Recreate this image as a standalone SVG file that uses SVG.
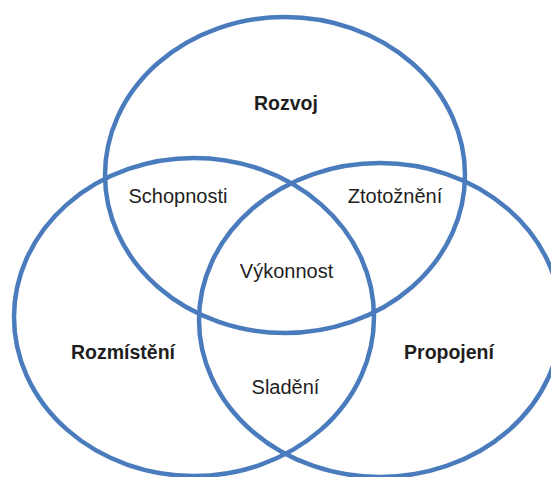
<svg xmlns="http://www.w3.org/2000/svg" width="551" height="477" viewBox="0 0 551 477">
<style>
.c{fill:none;stroke:#4a7cbd;stroke-width:4.5}
.t{font-family:"Liberation Sans",Arial,sans-serif;font-size:20px;fill:#1e1e1e;text-anchor:middle}
.b{font-weight:bold;font-size:19.5px}
</style>
<rect width="551" height="477" fill="#ffffff"/>
<g id="rozvoj">
<ellipse class="c" cx="285" cy="175" rx="180" ry="158"/>
<text class="t b" x="286" y="110">Rozvoj</text>
</g>
<g id="rozmisteni">
<ellipse class="c" cx="194" cy="317" rx="180" ry="159"/>
<text class="t b" x="123" y="359">Rozmístění</text>
</g>
<g id="propojeni">
<ellipse class="c" cx="380" cy="320" rx="181" ry="157"/>
<text class="t b" x="449" y="359">Propojení</text>
</g>
<g id="schopnosti">
<text class="t" x="178" y="203">Schopnosti</text>
</g>
<g id="ztotozneni">
<text class="t" x="395" y="203">Ztotožnění</text>
</g>
<g id="vykonnost">
<text class="t" x="286.5" y="278">Výkonnost</text>
</g>
<g id="sladeni">
<text class="t" x="285.5" y="394">Sladění</text>
</g>
</svg>
